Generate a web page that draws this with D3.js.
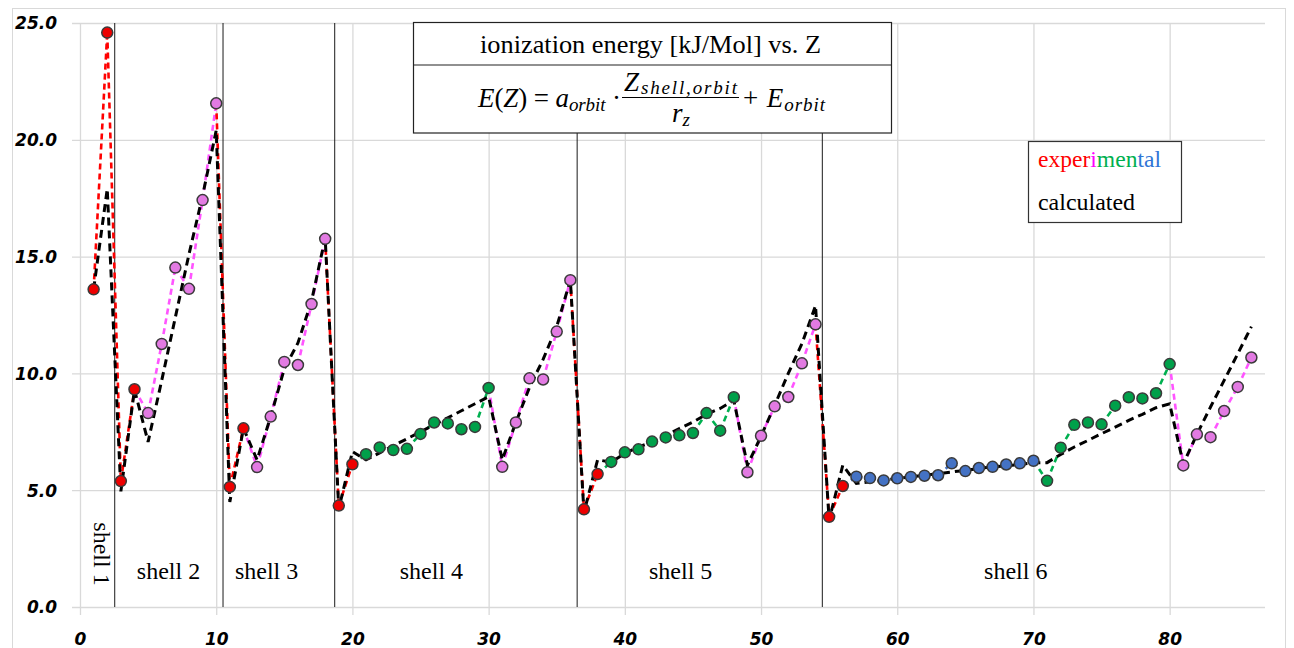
<!DOCTYPE html>
<html>
<head>
<meta charset="utf-8">
<script src="https://cdn.jsdelivr.net/npm/d3@7"></script>
<style>
  html, body { margin: 0; padding: 0; background: #fff; }
  svg { display: block; }
  .tick text { font-family: "DejaVu Sans", sans-serif; font-weight: bold; font-style: italic; font-size: 17px; fill: #000; }
  .tick line { stroke: #d9d9d9; stroke-width: 1.3; }
  .serif { font-family: "Liberation Serif", "Times New Roman", serif; fill: #000; }
</style>
</head>
<body>
<svg id="chart" width="1294" height="648"></svg>
<script>
// atomic number Z (categories)
const atomicNumber = d3.range(1, 87);

// block of each element: s = red, p = magenta, d = green, f = blue
const blockOf = ("ssss" + "pppppp" + "ss" + "pppppp" + "ss" + "dddddddddd" + "pppppp" +
  "ss" + "dddddddddd" + "pppppp" + "ss" + "ffffffffffffff" + "dddddddddd" + "pppppp").split("");

// measured ionization energies
const experimental = [
  13.60, 24.59, 5.39, 9.32, 8.30, 11.26, 14.53, 13.62, 17.42, 21.56,
  5.14, 7.65, 5.99, 8.15, 10.49, 10.36, 12.97, 15.76, 4.34, 6.11,
  6.54, 6.83, 6.72, 6.77, 7.41, 7.90, 7.86, 7.61, 7.71, 9.38,
  6.00, 7.90, 9.79, 9.74, 11.79, 13.99, 4.18, 5.69, 6.21, 6.62,
  6.75, 7.08, 7.26, 7.35, 7.45, 8.30, 7.55, 8.98, 5.77, 7.33,
  8.59, 8.99, 10.43, 12.10, 3.86, 5.18, 5.58, 5.52, 5.42, 5.51,
  5.57, 5.62, 5.64, 6.15, 5.82, 5.95, 6.00, 6.10, 6.15, 6.26,
  5.40, 6.82, 7.80, 7.90, 7.82, 8.62, 8.98, 8.93, 9.15, 10.40,
  6.06, 7.39, 7.27, 8.39, 9.42, 10.68
];

// calculated E(Z)
const calculated = [
  13.6, 17.9, 4.95, 9.3, 7.07, 9.7, 12.4, 15.1, 17.6, 20.4,
  4.5, 7.65, 6.3, 8.15, 10.2, 11.3, 13.1, 15.8, 4.2, 6.65,
  6.3, 6.6, 6.9, 7.2, 7.5, 7.8, 8.1, 8.4, 8.7, 9.0,
  6.3, 7.9, 9.4, 10.6, 12.0, 14.0, 4.05, 6.3, 6.2, 6.57,
  6.85, 7.06, 7.35, 7.64, 7.92, 8.25, 8.5, 8.85, 6.07, 7.31,
  8.63, 10.0, 11.27, 12.9, 3.72, 6.07, 5.29, 5.36, 5.43, 5.5,
  5.57, 5.64, 5.71, 5.78, 5.85, 5.93, 6.0, 6.04, 6.1, 6.17,
  6.18, 6.53, 6.85, 7.13, 7.42, 7.7, 7.99, 8.25, 8.53, 8.7,
  6.13, 7.39, 8.56, 9.7, 10.84, 12.0
];

const shellBorders = [2.55, 10.5, 18.7, 36.5, 54.5];
const shellNames = ["shell 2", "shell 3", "shell 4", "shell 5", "shell 6"];
const shellCenters = [6.5, 13.7, 25.8, 44.1, 68.7];

const xTicks = [0, 10, 20, 30, 40, 50, 60, 70, 80];
const yTicks = [0, 5, 10, 15, 20, 25];

const lineColor = { s: "#ff0000", p: "#ff55ff", d: "#00b050", f: "#4472c4" };
const dotColor = { s: "#ee0000", p: "#e27ae2", d: "#00a04a", f: "#4472c4" };
const legendColor = { s: "#ff0000", p: "#ff00ff", d: "#00b050", f: "#2f75d6" };

const svg = d3.select("#chart");
const margin = { top: 23, right: 29, bottom: 41, left: 80 };
const W = 1294, H = 648;
const plotW = W - margin.left - margin.right;
const plotH = H - margin.top - margin.bottom;

// chart frame
svg.append("rect").attr("x", 12.5).attr("y", 8.5).attr("width", 1273).attr("height", 660)
  .attr("fill", "#fff").attr("stroke", "#d9d9d9").attr("stroke-width", 1);

const g = svg.append("g").attr("transform", `translate(${margin.left},${margin.top})`);

const x = d3.scaleLinear().domain([0, 87]).range([0, plotW]);
const y = d3.scaleLinear().domain([0, 25]).range([plotH, 0]);

// grid + axes
const yAxis = g.append("g").attr("transform", "translate(-8,0)")
  .call(d3.axisLeft(y).tickValues(yTicks).tickSize(-(plotW + 8)).tickPadding(15).tickFormat(d3.format(".1f")));
yAxis.select(".domain").remove();
yAxis.selectAll(".tick text").attr("dy", "0.35em");

const xAxis = g.append("g").attr("transform", `translate(0,${plotH + 8})`)
  .call(d3.axisBottom(x).tickValues(xTicks).tickSize(-(plotH + 8)).tickPadding(18).tickFormat(d3.format("d")));
xAxis.select(".domain").remove();

// shell borders
g.selectAll("line.shell").data(shellBorders).enter().append("line")
  .attr("class", "shell")
  .attr("x1", d => x(d)).attr("x2", d => x(d))
  .attr("y1", 0).attr("y2", plotH)
  .attr("stroke", "#1a1a1a").attr("stroke-width", 1);

// shell labels
g.selectAll("text.shellname").data(shellNames).enter().append("text")
  .attr("class", "serif shellname")
  .attr("x", (d, i) => x(shellCenters[i]))
  .attr("y", y(1.2))
  .attr("text-anchor", "middle")
  .attr("font-size", 24)
  .text(d => d);

g.append("text").attr("class", "serif")
  .attr("transform", `translate(${x(1.0)},${y(2.27)}) rotate(90)`)
  .attr("text-anchor", "middle")
  .attr("font-size", 24)
  .text("shell 1");

const pts = atomicNumber.map((z, i) => ({ z, e: experimental[i], c: calculated[i], b: blockOf[i] }));
const line = d3.line().x(d => x(d[0])).y(d => y(d[1]));

// experimental segments, coloured by block of the end point
const segs = pts.slice(1).map((p, i) => ({ b: p.b, pts: [[pts[i].z, pts[i].e], [p.z, p.e]] }));
g.append("g").selectAll("path").data(segs).enter().append("path")
  .attr("d", d => line(d.pts))
  .attr("fill", "none")
  .attr("stroke", d => lineColor[d.b])
  .attr("stroke-width", 2.6)
  .attr("stroke-dasharray", "6,4");

// calculated
g.append("path")
  .datum(pts)
  .attr("d", d3.line().x(d => x(d.z)).y(d => y(d.c)))
  .attr("fill", "none")
  .attr("stroke", "#000")
  .attr("stroke-width", 3)
  .attr("stroke-dasharray", "8,5");

// experimental markers
g.append("g").selectAll("circle").data(pts).enter().append("circle")
  .attr("cx", d => x(d.z)).attr("cy", d => y(d.e))
  .attr("r", 5.5)
  .attr("fill", d => dotColor[d.b])
  .attr("stroke", "#3a3a3a").attr("stroke-width", 1.5);

// title box
const tb = svg.append("g");
tb.append("rect").attr("x", 413.5).attr("y", 22.5).attr("width", 478).attr("height", 110.5)
  .attr("fill", "#fff").attr("stroke", "#222").attr("stroke-width", 1.2);
tb.append("line").attr("x1", 413.5).attr("x2", 891.5).attr("y1", 65).attr("y2", 65)
  .attr("stroke", "#222").attr("stroke-width", 1.2);
tb.append("text").attr("class", "serif").attr("x", 480).attr("y", 53)
  .attr("font-size", 26).attr("textLength", 341).attr("lengthAdjust", "spacingAndGlyphs")
  .text("ionization energy [kJ/Mol] vs. Z");

const math = tb.append("g").attr("class", "serif").attr("font-style", "italic");
const t1 = math.append("text").attr("x", 478).attr("y", 107).attr("font-size", 27)
  .attr("textLength", 143).attr("lengthAdjust", "spacing");
t1.append("tspan").text("E");
t1.append("tspan").attr("font-style", "normal").text("(");
t1.append("tspan").text("Z");
t1.append("tspan").attr("font-style", "normal").text(") = ");
t1.append("tspan").text("a");
t1.append("tspan").attr("font-size", 19).attr("dy", 4).text("orbit");
t1.append("tspan").attr("font-style", "normal").attr("dy", -4).text(" ·");

const t2 = math.append("text").attr("x", 624).attr("y", 91).attr("font-size", 27)
  .attr("textLength", 113).attr("lengthAdjust", "spacing");
t2.append("tspan").text("Z");
t2.append("tspan").attr("font-size", 19).attr("dy", 3).text("shell,orbit");

math.append("line").attr("x1", 622).attr("x2", 739).attr("y1", 97.5).attr("y2", 97.5)
  .attr("stroke", "#000").attr("stroke-width", 1.2);

const t3 = math.append("text").attr("x", 681).attr("y", 122).attr("font-size", 27)
  .attr("text-anchor", "middle");
t3.append("tspan").text("r");
t3.append("tspan").attr("font-size", 19).attr("dy", 4).text("z");

const t4 = math.append("text").attr("x", 743).attr("y", 107).attr("font-size", 27)
  .attr("textLength", 82).attr("lengthAdjust", "spacing");
t4.append("tspan").attr("font-style", "normal").text("+ ");
t4.append("tspan").text("E");
t4.append("tspan").attr("font-size", 19).attr("dy", 4).text("orbit");

// legend
const lg = svg.append("g");
lg.append("rect").attr("x", 1028.5).attr("y", 141.5).attr("width", 153).attr("height", 81)
  .attr("fill", "#fff").attr("stroke", "#333").attr("stroke-width", 1.2);
const lt = lg.append("text").attr("class", "serif").attr("x", 1038).attr("y", 167)
  .attr("font-size", 24).attr("textLength", 123).attr("lengthAdjust", "spacingAndGlyphs");
[["exper", "s"], ["i", "p"], ["men", "d"], ["tal", "f"]].forEach(([t, b]) => {
  lt.append("tspan").attr("fill", legendColor[b]).text(t);
});
lg.append("text").attr("class", "serif").attr("x", 1038).attr("y", 210)
  .attr("font-size", 24).attr("textLength", 97).attr("lengthAdjust", "spacingAndGlyphs")
  .text("calculated");
</script>
</body>
</html>
